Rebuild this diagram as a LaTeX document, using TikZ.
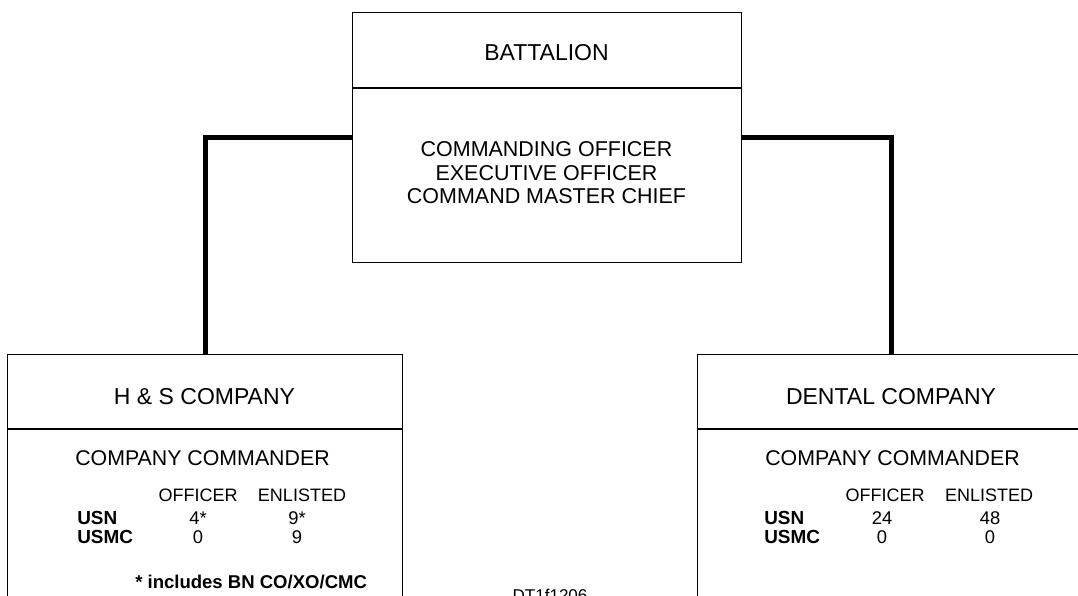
\documentclass[tikz,border=0pt]{standalone}
\usepackage{fontspec}
\setmainfont{Liberation Sans}
\begin{document}
\begin{tikzpicture}[x=0.75pt,y=-0.75pt,
  box/.style={draw, line width=1.1pt, inner sep=0pt, anchor=north west},
  divider/.style={line width=1.1pt},
  conn/.style={line width=3.6pt, line join=miter},
  headtext/.style={font=\fontsize{17.25pt}{20pt}\selectfont, inner sep=0pt},
  bodytext/.style={font=\fontsize{16.1pt}{17.6pt}\selectfont, inner sep=0pt, align=center},
  cmdtext/.style={font=\fontsize{16pt}{18pt}\selectfont, inner sep=0pt, anchor=west},
  coltext/.style={font=\fontsize{13.5pt}{15pt}\selectfont, inner sep=0pt},
  rowtext/.style={font=\bfseries\fontsize{14.2pt}{16pt}\selectfont, inner sep=0pt, anchor=west},
  numtext/.style={font=\fontsize{13.8pt}{16pt}\selectfont, inner sep=0pt},
  notetext/.style={font=\bfseries\fontsize{13.9pt}{16pt}\selectfont, inner sep=0pt, anchor=west},
  tagtext/.style={font=\fontsize{12.8pt}{15pt}\selectfont, inner sep=0pt, anchor=base}
]
\clip (0,0) rectangle (1078,596);

% boxes
\node[box, minimum width=291.75pt, minimum height=187.5pt] (bn) at (352,12) {};
\node[box, minimum width=296.25pt, minimum height=225pt] (hs) at (7,354) {};
\node[box, minimum width=291pt, minimum height=225pt] (dc) at (697,354) {};

% header dividers
\draw[divider] (bn.west |- 0,88) -- (bn.east |- 0,88);
\draw[divider] (hs.west |- 0,429) -- (hs.east |- 0,429);
\draw[divider] (dc.west |- 0,429) -- (dc.east |- 0,429);

% connectors
\draw[conn] (bn.west) -| (hs.north);
\draw[conn] (bn.east) -| (dc.north);

% battalion
\node[headtext] (bnt) at (546.5,53) {BATTALION};
\node[bodytext] (bnb) at (546.5,173) {COMMANDING OFFICER\\EXECUTIVE OFFICER\\COMMAND MASTER CHIEF};

% H & S company
\node[headtext] (hst) at (204.5,397) {H \& S COMPANY};
\node[cmdtext] (hscc) at (75,458) {COMPANY COMMANDER};
\node[coltext] (hsoff) at (198,495) {OFFICER};
\node[coltext] (hsenl) at (302,495) {ENLISTED};
\node[rowtext] (hsusn) at (77,518) {USN};
\node[rowtext] (hsusmc) at (77,537) {USMC};
\node[numtext] (hs11) at (198,518) {4*};
\node[numtext] (hs12) at (297,518) {9*};
\node[numtext] (hs21) at (198,537) {0};
\node[numtext] (hs22) at (297,537) {9};
\node[notetext] (hsnote) at (135,582) {* includes BN CO/XO/CMC};

% dental company
\node[headtext] (dct) at (891,397) {DENTAL COMPANY};
\node[cmdtext] (dccc) at (765,458) {COMPANY COMMANDER};
\node[coltext] (dcoff) at (885,495) {OFFICER};
\node[coltext] (dcenl) at (989,495) {ENLISTED};
\node[rowtext] (dcusn) at (764,518) {USN};
\node[rowtext] (dcusmc) at (764,537) {USMC};
\node[numtext] (dc11) at (882,518) {24};
\node[numtext] (dc12) at (990,518) {48};
\node[numtext] (dc21) at (882,537) {0};
\node[numtext] (dc22) at (990,537) {0};

% figure tag
\node[tagtext] (tag) at (550,601) {DT1f1206};
\end{tikzpicture}
\end{document}
